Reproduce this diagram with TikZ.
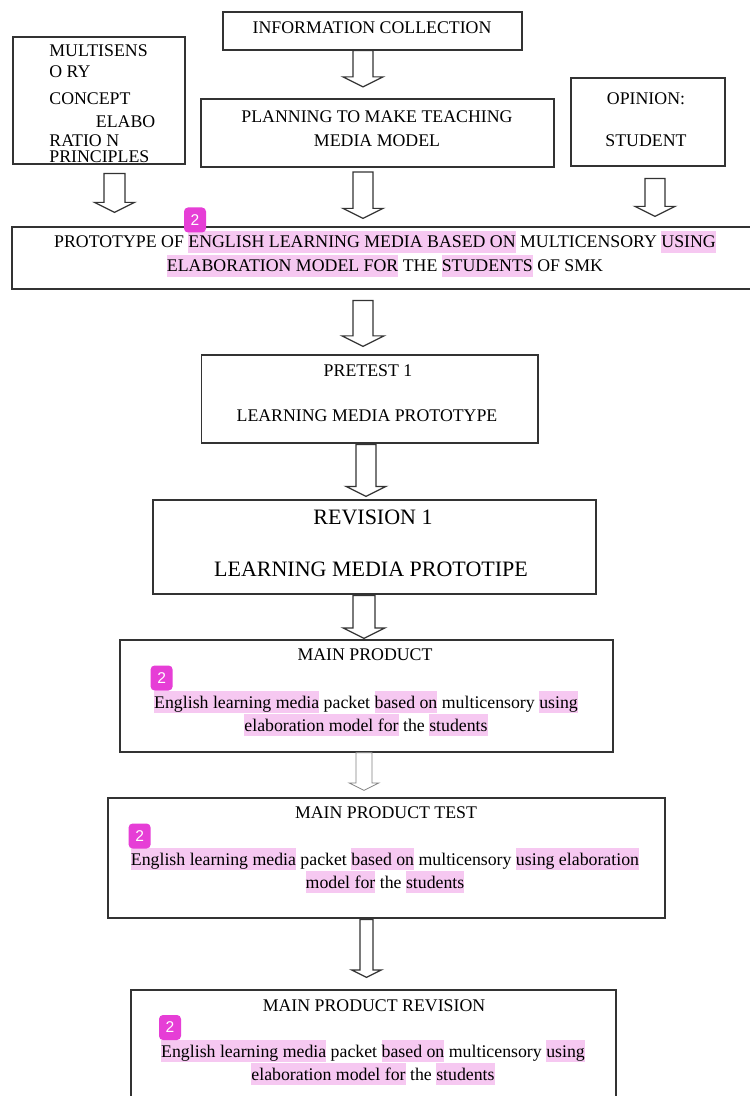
\documentclass[tikz,border=0pt]{standalone}
\usepackage{fontspec}
\setmainfont{Liberation Serif}
\newfontfamily\badgefont{Liberation Sans}
\usepackage{xcolor}
\usetikzlibrary{calc,fit}

\definecolor{hlpink}{HTML}{F6C8F1}
\definecolor{badgepink}{HTML}{E63ED6}
\definecolor{linegray}{HTML}{333333}

\newcommand\hl[1]{{\setlength{\fboxsep}{0pt}\colorbox{hlpink}{\rule[-2.5pt]{0pt}{11pt}#1}}}

% hollow block arrow: [style]{x}{half shaft}{half head}{from}{to}
\newcommand\fatarrow[6][]{%
  \draw[arrowline,#1] let \p1=(#2,0), \p2=#5, \p3=#6 in
    (\x1-#3*0.5pt,\y2) -- (\x1-#3*0.5pt,\y3+#4*0.25pt) -- (\x1-#4*0.5pt,\y3+#4*0.25pt)
    -- (\x1,\y3) -- (\x1+#4*0.5pt,\y3+#4*0.25pt) -- (\x1+#3*0.5pt,\y3+#4*0.25pt)
    -- (\x1+#3*0.5pt,\y2) -- cycle;}

\begin{document}
\begin{tikzpicture}[x=0.5pt, y=-0.5pt,
    box/.style={draw=linegray, line width=0.6pt, inner sep=0pt},
    txt/.style={anchor=base, inner sep=0pt, font=\fontsize{8.9}{12}\selectfont},
    big/.style={txt, font=\fontsize{11}{14}\selectfont},
    arrowline/.style={draw=linegray, line width=0.6pt, line join=miter},
    badge/.style={fill=badgepink, text=white, rounded corners=2pt, inner sep=0pt,
      minimum width=11pt, minimum height=12.5pt, font=\badgefont\fontsize{7.8}{8}\selectfont}]
  \useasboundingbox (0,0) rectangle (749,1096);
  \fill[white] (0,0) rectangle (749,1096);

  % top row
  \node[box, fit={(223,12) (522,50)}] (info) {};
  \node[txt] (info-t) at (372,34) {INFORMATION COLLECTION};

  \node[box, fit={(13,37) (185,164)}] (multi) {};
  \foreach \yy/\lbl in {57/MULTISENS, 78/O RY, 105/CONCEPT, 147/RATIO N, 163/PRINCIPLES}
    \node[txt, anchor=base west] (multi-\yy) at (49,\yy) {\lbl};
  \node[txt, anchor=base west] (multi-128) at (95.5,128) {ELABO};

  \node[box, line width=1.1pt, fit={(201,99) (554,167)}] (plan) {};
  \node[txt] (plan-1) at (377,123) {PLANNING TO MAKE TEACHING};
  \node[txt] (plan-2) at (377,147) {MEDIA MODEL};

  \node[box, fit={(571,78) (725,166)}] (opinion) {};
  \node[txt] (opinion-1) at (646,105) {OPINION:};
  \node[txt] (opinion-2) at (646,147) {STUDENT};

  % prototype
  \node[box, fit={(12,227) (758,289)}] (proto) {};
  \node[txt] (proto-1) at (385,248) {PROTOTYPE OF \hl{ENGLISH LEARNING MEDIA BASED ON} MULTICENSORY \hl{USING}};
  \node[txt] (proto-2) at (385,272) {\hl{ELABORATION MODEL FOR} THE \hl{STUDENTS} OF SMK};

  \node[box, fit={(201.5,355) (538,443)}] (pretest) {};
  \node[txt] (pretest-1) at (368,376) {PRETEST 1};
  \node[txt] (pretest-2) at (367,421) {LEARNING MEDIA PROTOTYPE};

  \node[box, fit={(153,500) (596,594)}] (revision) {};
  \node[big] (revision-1) at (373,524) {REVISION 1};
  \node[big] (revision-2) at (371,576) {LEARNING MEDIA PROTOTIPE};

  \node[box, fit={(120,640) (613,752)}] (main) {};
  \node[txt] (main-t) at (365,660) {MAIN PRODUCT};
  \node[txt] (main-1) at (366,708) {\hl{English learning media} packet \hl{based on} multicensory \hl{using}};
  \node[txt] (main-2) at (366,731) {\hl{elaboration model for} the \hl{students}};

  \node[box, fit={(108,798) (665,918)}] (test) {};
  \node[txt] (test-t) at (386,818) {MAIN PRODUCT TEST};
  \node[txt] (test-1) at (385,865) {\hl{English learning media} packet \hl{based on} multicensory \hl{using elaboration}};
  \node[txt] (test-2) at (385,888) {\hl{model for} the \hl{students}};

  \node[box, fit={(131,990) (616,1110)}] (rev) {};
  \node[txt] (rev-t) at (374,1011) {MAIN PRODUCT REVISION};
  \node[txt] (rev-1) at (373,1057) {\hl{English learning media} packet \hl{based on} multicensory \hl{using}};
  \node[txt] (rev-2) at (373,1080) {\hl{elaboration model for} the \hl{students}};

  % arrows
  \fatarrow{363}{10}{20}{(info.south)}{([yshift=5.5pt]plan.north)}
  \fatarrow{114.5}{10.5}{20}{([yshift=-4.5pt]multi.south)}{([yshift=7pt]proto.north)}
  \fatarrow{363}{10}{20}{([yshift=-2pt]plan.south)}{([yshift=4pt]proto.north)}
  \fatarrow{655}{10}{20}{([yshift=-6pt]opinion.south)}{([yshift=5pt]proto.north)}
  \fatarrow{363}{10}{21}{([yshift=-5.5pt]proto.south)}{([yshift=4pt]pretest.north)}
  \fatarrow{366}{10}{20}{([yshift=-0.5pt]pretest.south)}{([yshift=1.5pt]revision.north)}
  \fatarrow{364}{11}{21}{([yshift=-0.5pt]revision.south)}{([yshift=0.5pt]main.north)}
  \fatarrow[draw=gray, line width=0.4pt]{364}{8}{15}{(main.south)}{([yshift=3.5pt]test.north)}
  \fatarrow{366.5}{6.5}{15}{([yshift=-0.5pt]test.south)}{([yshift=6pt]rev.north)}

  % badges
  \node[badge] (badge-proto) at (195,220) {2};
  \node[badge] (badge-main) at (161.6,678) {2};
  \node[badge] (badge-test) at (139.6,836) {2};
  \node[badge] (badge-rev) at (170,1027.5) {2};
\end{tikzpicture}
\end{document}
